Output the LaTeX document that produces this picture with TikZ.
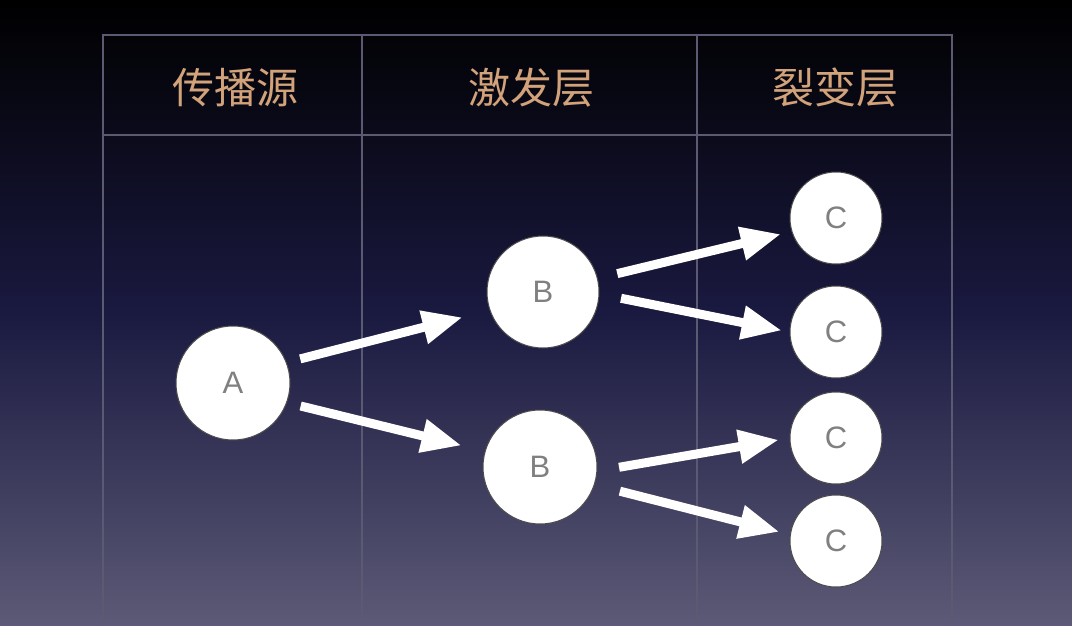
\documentclass[tikz,border=0pt]{standalone}
\usepackage{fontspec}
\usepackage{tikz}
\usetikzlibrary{arrows.meta}
\newfontfamily\cjk{Noto Sans CJK SC}
\newfontfamily\letterfont{Liberation Sans}
\definecolor{bgtop}{RGB}{0,0,0}
\definecolor{bgmid}{RGB}{26,25,64}
\definecolor{bgbot}{RGB}{92,90,118}
\definecolor{gridline}{RGB}{90,90,115}
\definecolor{headtext}{RGB}{210,162,122}

\begin{document}
\begin{tikzpicture}[x=1pt, y=-1pt,
  ball/.style={circle, fill=white, draw=black!70, line width=1pt, inner sep=0pt,
    font=\fontsize{31}{31}\letterfont, text=black!50},
  push/.style={draw=white, line width=9pt,
    -{Triangle[length=40pt, width=32pt]}},
  every node/.style={font=\fontsize{42}{42}\cjk, text=headtext}]
% background
\shade[top color=bgtop, bottom color=bgbot, middle color=bgmid] (0,0) rectangle (1072,626);
\useasboundingbox (0,0) rectangle (1072,626);
% table frame
\draw[gridline, line width=1.5pt] (103,640) -- (103,35) -- (952,35) -- (952,640);
\draw[gridline, line width=1.5pt] (103,135) -- (952,135);
\draw[gridline, line width=1.5pt] (362,35) -- (362,640);
\draw[gridline, line width=1.5pt] (697,35) -- (697,640);
% headers
\node (h1) at (235,88) {传播源};
\node (h2) at (531,88) {激发层};
\node (h3) at (835,88) {裂变层};
% circles
\node[ball, minimum size=114pt] (a) at (233,383) {A};
\node[ball, minimum size=112pt] (b1) at (543,292) {B};
\node[ball, minimum size=114pt] (b2) at (540,467) {B};
\node[ball, minimum size=92pt] (c1) at (836,218) {C};
\node[ball, minimum size=92pt] (c2) at (836,332) {C};
\node[ball, minimum size=92pt] (c3) at (836,438) {C};
\node[ball, minimum size=92pt] (c4) at (836,541) {C};
% arrows
\draw[push, shorten <=14pt, shorten >=28pt] (a.21) -- (b1.199);
\draw[push, shorten <=14pt, shorten >=24pt] (a.-20) -- (b2.164);
\draw[push, shorten <=20pt, shorten >=11pt] (b1.14) -- (c1.197);
\draw[push, shorten <=22pt, shorten >=8pt] (b1.-2) -- (c2.180);
\draw[push, shorten <=22pt, shorten >=11pt] (b2.-4) -- (c3.180);
\draw[push, shorten <=26pt, shorten >=11pt] (b2.-18) -- (c4.172);
\end{tikzpicture}
\end{document}
